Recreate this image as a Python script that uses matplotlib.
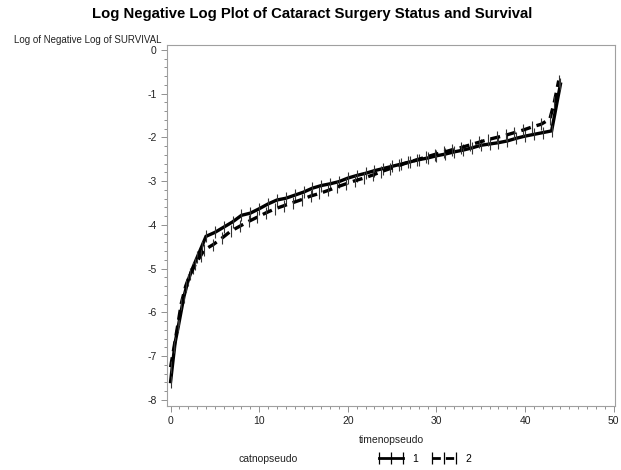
import matplotlib
matplotlib.use("Agg")
import matplotlib.pyplot as plt
from matplotlib.lines import Line2D
from matplotlib.ticker import MultipleLocator

plt.rcParams['font.family'] = ['Liberation Sans', 'DejaVu Sans']
plt.rcParams['axes.unicode_minus'] = False

# log(-log S(t)) estimates for each cataract surgery group
time_1 = [0, 0.5, 1, 1.5, 2, 2.5, 3, 3.5, 4, 5, 6, 7, 8, 9, 10, 11, 12, 13, 14, 15,
          16, 17, 18, 19, 20, 21, 22, 23, 24, 25, 26, 27, 28, 29, 30, 31, 32, 33,
          34, 35, 36, 37, 38, 39, 40, 41, 42, 43, 44]
lls_1 = [-7.58, -6.70, -6.18, -5.64, -5.25, -4.98, -4.74, -4.50, -4.26, -4.17, -4.05,
         -3.93, -3.78, -3.73, -3.63, -3.52, -3.43, -3.39, -3.32, -3.25, -3.16, -3.10,
         -3.06, -3.01, -2.93, -2.87, -2.82, -2.76, -2.71, -2.66, -2.61, -2.56, -2.51,
         -2.47, -2.42, -2.38, -2.33, -2.29, -2.24, -2.18, -2.15, -2.12, -2.08, -2.02,
         -1.97, -1.93, -1.89, -1.85, -0.78]

time_2 = [0, 0.4, 0.8, 1.2, 1.7, 2.2, 2.8, 3.4, 3.8, 4.8, 5.8, 6.8, 7.8, 8.8, 9.8,
          10.8, 11.8, 12.8, 13.8, 14.8, 15.8, 16.8, 17.8, 18.8, 19.8, 20.8, 21.8,
          22.8, 23.8, 24.8, 25.8, 26.8, 27.8, 28.8, 29.8, 30.8, 31.8, 32.8, 33.8,
          34.8, 35.8, 36.8, 37.8, 38.8, 39.8, 40.8, 41.8, 42.8, 43.3, 43.8]
lls_2 = [-7.25, -6.78, -6.30, -5.80, -5.40, -5.13, -4.90, -4.70, -4.57, -4.45, -4.30,
         -4.14, -4.03, -3.92, -3.82, -3.72, -3.63, -3.56, -3.49, -3.42, -3.34, -3.28,
         -3.21, -3.13, -3.06, -2.99, -2.93, -2.86, -2.78, -2.71, -2.64, -2.57, -2.51,
         -2.45, -2.39, -2.34, -2.28, -2.23, -2.17, -2.11, -2.05, -2.00, -1.95, -1.89,
         -1.83, -1.76, -1.70, -1.58, -1.20, -0.70]

groups = ['1', '2']

fig = plt.figure(figsize=(6.21, 4.70), dpi=100)
ax = fig.add_axes([0.269, 0.136, 0.722, 0.768])

# thick curves with vertical tick markers at every event time
ax.plot(time_1, lls_1, color='black', lw=2.4, solid_joinstyle='miter')
ax.plot(time_1, lls_1, ls='none', marker='|', ms=9, mew=0.8, color='#333333')
ax.plot(time_2, lls_2, color='black', lw=2.4, ls=(0, (3.0, 1.8)))
ax.plot(time_2, lls_2, ls='none', marker='|', ms=9, mew=0.8, color='#333333')

ax.set_xlim(-0.4, 50.2)
ax.set_ylim(-8.14, 0.11)
ax.xaxis.set_major_locator(MultipleLocator(10))
ax.xaxis.set_minor_locator(MultipleLocator(1))
ax.yaxis.set_major_locator(MultipleLocator(1))
ax.yaxis.set_minor_locator(MultipleLocator(0.2))

for s in ax.spines.values():
    s.set_color('#a0a0a0')
    s.set_linewidth(0.8)
ax.tick_params(which='both', color='#909090', labelsize=7.5, labelcolor='#222222',
               width=0.7)
ax.tick_params(which='major', length=4)
ax.tick_params(which='minor', length=2.5)

fig.text(0.503, 0.97, 'Log Negative Log Plot of Cataract Surgery Status and Survival',
         ha='center', va='center', fontsize=10.7, fontweight='bold')
fig.text(162 / 621, 1 - 40 / 470, 'Log of Negative Log of SURVIVAL',
         ha='right', va='center', fontsize=7, color='#222222')
fig.text(391 / 621, 1 - 440 / 470, 'timenopseudo', ha='center', va='center',
         fontsize=7.5, color='#222222')

# legend row under the x axis label
fig.text(268 / 621, 1 - 459 / 470, 'catnopseudo', ha='center', va='center',
         fontsize=7.5, color='#222222')
handles = [
    Line2D([], [], color='black', lw=2.0, marker='|', ms=8, mew=0.9),
    Line2D([], [], color='black', lw=2.0, ls=(0, (3.0, 1.8)), marker='|', ms=8, mew=0.9),
]
fig.legend(handles, groups, loc='center left', bbox_to_anchor=(376 / 621, 1 - 459 / 470),
           ncol=2, frameon=False, numpoints=3, handlelength=2.9, handletextpad=0.6,
           columnspacing=1.0, fontsize=7.5, borderpad=0, borderaxespad=0)

fig.savefig('out.png', dpi=100)
